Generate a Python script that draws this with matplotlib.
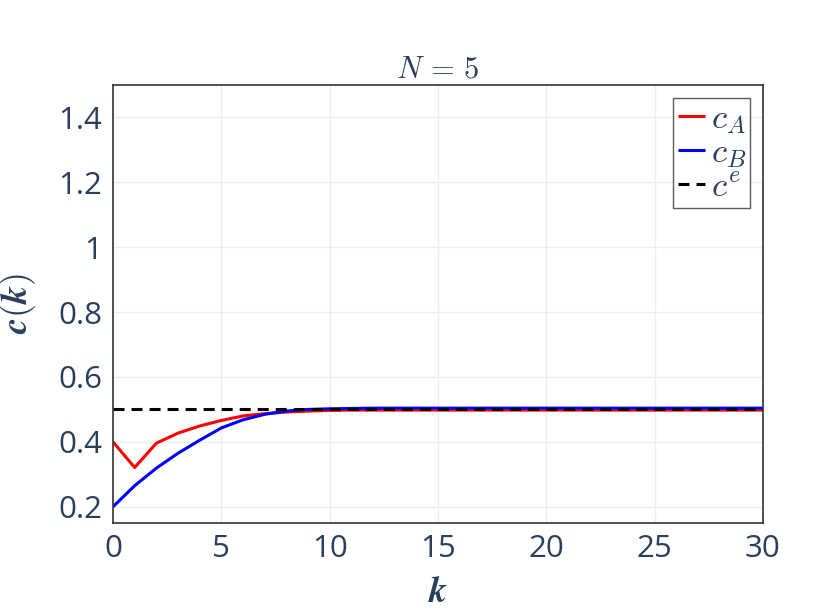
import matplotlib
matplotlib.use("Agg")
import matplotlib.pyplot as plt
import numpy as np

k = list(range(31))
c_A = [0.400, 0.321, 0.396, 0.427, 0.449, 0.466, 0.480, 0.487, 0.492, 0.495,
       0.497] + [0.498] * 20
c_B = [0.200, 0.265, 0.319, 0.365, 0.405, 0.443, 0.468, 0.485, 0.495, 0.500,
       0.502, 0.503] + [0.504] * 19
c_e = [0.5] * 31

x_ticks = [0, 5, 10, 15, 20, 25, 30]
y_ticks = [0.2, 0.4, 0.6, 0.8, 1.0, 1.2, 1.4]
y_tick_labels = ["0.2", "0.4", "0.6", "0.8", "1", "1.2", "1.4"]

TXT = "#2a3f5f"
plt.rcParams['mathtext.fontset'] = 'cm'
plt.rcParams['font.family'] = ['Open Sans', 'DejaVu Sans']

fig = plt.figure(figsize=(8.31, 6.10), dpi=100)
ax = fig.add_axes([113/831, 87/610, 650/831, 438/610])

ax.plot(k, c_A, color="#ff0000", lw=2.2, label=r"$c_A$", solid_capstyle='butt')
ax.plot(k, c_B, color="#0000ff", lw=2.2, label=r"$c_B$", solid_capstyle='butt')
ax.plot(k, c_e, color="black", lw=2.2, dashes=(3.6, 2.3), dash_capstyle='butt', label=r"$c^e$")

ax.set_xlim(0, 30)
ax.set_ylim(0.15, 1.5)
ax.set_xticks(x_ticks)
ax.set_xticklabels([str(v) for v in x_ticks])
ax.set_yticks(y_ticks)
ax.set_yticklabels(y_tick_labels)
ax.tick_params(axis='both', length=0, labelsize=22.5, labelcolor=TXT, pad=8)
ax.grid(True, color="#eeeeee", lw=1)
ax.set_axisbelow(True)
for s in ax.spines.values():
    s.set_color("#333333")
    s.set_linewidth(1.2)

ax.set_xlabel(r"$\boldsymbol{k}$", fontsize=26, color=TXT, labelpad=8)
ax.set_ylabel(r"$\boldsymbol{c(k)}$", fontsize=26, color=TXT, labelpad=14)
ax.set_title(r"$N\,=\,5$", fontsize=22, color=TXT, pad=5)

leg = ax.legend(loc='upper right', bbox_to_anchor=(0.98, 0.97), borderaxespad=0,
                fontsize=25, handlelength=0.8, handletextpad=0.15, labelspacing=0.0,
                borderpad=0.12, frameon=True, fancybox=False, labelcolor=TXT)
leg.get_frame().set_edgecolor("#333333")
leg.get_frame().set_linewidth(1.0)

fig.savefig("out.png", dpi=100)
